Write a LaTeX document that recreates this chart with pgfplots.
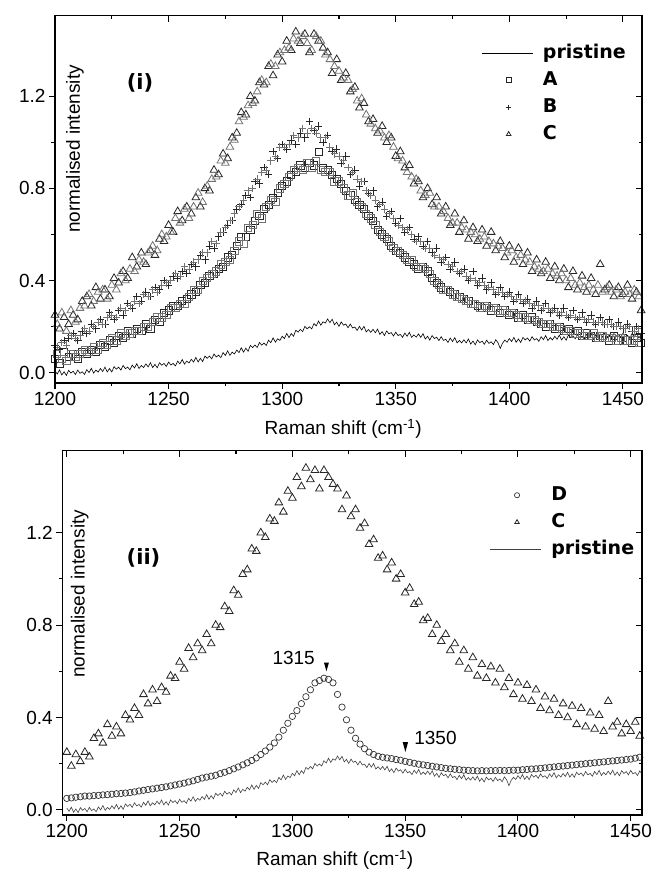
\documentclass[border=0pt]{standalone}
\usepackage{pgfplots}
\pgfplotsset{compat=1.18}
\usepackage{pgfplotstable}
\usepackage{fontspec}
\setmainfont{Liberation Sans}
\newfontfamily\lgd{DejaVu Sans}

\pgfplotstableread{
x y
1200 0.008
1201 -0.006
1202 0.012
1203 -0.010
1204 0.004
1205 -0.012
1206 0.010
1207 -0.002
1208 0.006
1209 -0.008
1210 0.011
1211 -0.003
1212 0.004
1213 -0.008
1214 0.013
1215 0.000
1216 0.019
1217 -0.002
1218 0.011
1219 0.002
1220 0.018
1221 0.005
1222 0.024
1223 0.003
1224 0.018
1225 0.003
1226 0.026
1227 0.015
1228 0.024
1229 0.011
1230 0.031
1231 0.017
1232 0.024
1233 0.012
1234 0.033
1235 0.020
1236 0.039
1237 0.018
1238 0.031
1239 0.022
1240 0.038
1241 0.025
1242 0.043
1243 0.022
1244 0.036
1245 0.021
1246 0.043
1247 0.032
1248 0.040
1249 0.027
1250 0.046
1251 0.033
1252 0.040
1253 0.029
1254 0.050
1255 0.038
1256 0.057
1257 0.037
1258 0.050
1259 0.042
1260 0.058
1261 0.046
1262 0.066
1263 0.046
1264 0.062
1265 0.048
1266 0.072
1267 0.062
1268 0.072
1269 0.060
1270 0.081
1271 0.068
1272 0.076
1273 0.065
1274 0.087
1275 0.075
1276 0.095
1277 0.075
1278 0.089
1279 0.081
1280 0.098
1281 0.087
1282 0.108
1283 0.089
1284 0.106
1285 0.093
1286 0.118
1287 0.109
1288 0.120
1289 0.109
1290 0.131
1291 0.119
1292 0.128
1293 0.118
1294 0.141
1295 0.130
1296 0.151
1297 0.132
1298 0.147
1299 0.140
1300 0.158
1301 0.148
1302 0.170
1303 0.152
1304 0.170
1305 0.158
1306 0.184
1307 0.176
1308 0.188
1309 0.178
1310 0.201
1311 0.190
1312 0.199
1313 0.190
1314 0.213
1315 0.203
1316 0.224
1317 0.206
1318 0.221
1319 0.215
1320 0.233
1321 0.217
1322 0.232
1323 0.208
1324 0.219
1325 0.201
1326 0.220
1327 0.206
1328 0.211
1329 0.195
1330 0.211
1331 0.194
1332 0.198
1333 0.183
1334 0.201
1335 0.185
1336 0.201
1337 0.177
1338 0.187
1339 0.175
1340 0.188
1341 0.173
1342 0.189
1343 0.166
1344 0.178
1345 0.161
1346 0.181
1347 0.168
1348 0.174
1349 0.159
1350 0.176
1351 0.161
1352 0.166
1353 0.153
1354 0.172
1355 0.158
1356 0.175
1357 0.153
1358 0.164
1359 0.154
1360 0.168
1361 0.153
1362 0.169
1363 0.146
1364 0.158
1365 0.141
1366 0.161
1367 0.148
1368 0.154
1369 0.139
1370 0.156
1371 0.140
1372 0.145
1373 0.131
1374 0.150
1375 0.135
1376 0.152
1377 0.129
1378 0.140
1379 0.129
1380 0.143
1381 0.129
1382 0.146
1383 0.124
1384 0.137
1385 0.121
1386 0.142
1387 0.130
1388 0.137
1389 0.123
1390 0.141
1391 0.127
1392 0.134
1393 0.122
1394 0.143
1395 0.130
1396 0.105
1397 0.128
1398 0.141
1399 0.132
1400 0.148
1401 0.135
1402 0.153
1403 0.132
1404 0.146
1405 0.131
1406 0.153
1407 0.142
1408 0.150
1409 0.137
1410 0.156
1411 0.142
1412 0.148
1413 0.136
1414 0.156
1415 0.143
1416 0.161
1417 0.139
1418 0.152
1419 0.142
1420 0.158
1421 0.145
1422 0.163
1423 0.142
1424 0.156
1425 0.141
1426 0.163
1427 0.152
1428 0.160
1429 0.147
1430 0.166
1431 0.152
1432 0.158
1433 0.146
1434 0.166
1435 0.153
1436 0.171
1437 0.149
1438 0.162
1439 0.152
1440 0.168
1441 0.154
1442 0.172
1443 0.150
1444 0.164
1445 0.148
1446 0.170
1447 0.158
1448 0.166
1449 0.152
1450 0.171
1451 0.156
1452 0.162
1453 0.149
1454 0.169
1455 0.155
1456 0.173
1457 0.151
1458 0.163
}\tabP

\pgfplotstableread{
x y
1200 0.06
1202 0.04
1204 0.09
1206 0.07
1208 0.08
1210 0.06
1212 0.09
1214 0.08
1216 0.10
1218 0.09
1220 0.12
1222 0.11
1224 0.14
1226 0.13
1228 0.16
1230 0.15
1232 0.18
1234 0.17
1236 0.19
1238 0.18
1240 0.21
1242 0.19
1244 0.23
1246 0.22
1248 0.26
1250 0.27
1252 0.29
1254 0.29
1256 0.31
1258 0.32
1260 0.34
1262 0.35
1264 0.38
1266 0.39
1268 0.42
1270 0.43
1272 0.45
1274 0.46
1276 0.50
1278 0.51
1280 0.55
1282 0.59
1284 0.59
1286 0.62
1288 0.66
1290 0.68
1292 0.71
1294 0.73
1296 0.76
1298 0.78
1300 0.81
1302 0.83
1304 0.86
1306 0.87
1308 0.90
1310 0.89
1312 0.91
1314 0.90
1316 0.96
1318 0.89
1320 0.88
1322 0.86
1324 0.84
1326 0.82
1328 0.79
1330 0.77
1332 0.75
1334 0.73
1336 0.71
1338 0.68
1340 0.66
1342 0.62
1344 0.60
1346 0.58
1348 0.55
1350 0.53
1352 0.52
1354 0.50
1356 0.48
1358 0.47
1360 0.45
1362 0.46
1364 0.44
1366 0.41
1368 0.39
1370 0.37
1372 0.36
1374 0.35
1376 0.34
1378 0.33
1380 0.32
1382 0.31
1384 0.30
1386 0.29
1388 0.28
1390 0.29
1392 0.27
1394 0.28
1396 0.26
1398 0.27
1400 0.25
1402 0.26
1404 0.24
1406 0.25
1408 0.23
1410 0.24
1412 0.22
1414 0.21
1416 0.20
1418 0.21
1420 0.19
1422 0.20
1424 0.18
1426 0.19
1428 0.17
1430 0.18
1432 0.16
1434 0.17
1436 0.16
1438 0.15
1440 0.16
1442 0.15
1444 0.14
1446 0.16
1448 0.14
1450 0.15
1452 0.14
1454 0.13
1456 0.15
1458 0.13
}\tabA

\pgfplotstableread{
x y
1201 0.08
1203 0.06
1205 0.05
1207 0.08
1209 0.07
1211 0.08
1213 0.10
1215 0.09
1217 0.11
1219 0.10
1221 0.13
1223 0.12
1225 0.15
1227 0.14
1229 0.17
1231 0.16
1233 0.17
1235 0.18
1237 0.18
1239 0.20
1241 0.20
1243 0.22
1245 0.24
1247 0.24
1249 0.25
1251 0.28
1253 0.28
1255 0.30
1257 0.30
1259 0.33
1261 0.36
1263 0.36
1265 0.40
1267 0.41
1269 0.43
1271 0.44
1273 0.47
1275 0.48
1277 0.49
1279 0.53
1281 0.57
1283 0.56
1285 0.63
1287 0.64
1289 0.69
1291 0.67
1293 0.72
1295 0.75
1297 0.74
1299 0.80
1301 0.82
1303 0.85
1305 0.88
1307 0.89
1309 0.88
1311 0.91
1313 0.89
1315 0.92
1317 0.88
1319 0.87
1321 0.87
1323 0.83
1325 0.83
1327 0.80
1329 0.77
1331 0.78
1333 0.74
1335 0.72
1337 0.69
1339 0.67
1341 0.64
1343 0.61
1345 0.59
1347 0.57
1349 0.54
1351 0.53
1353 0.51
1355 0.49
1357 0.49
1359 0.46
1361 0.46
1363 0.45
1365 0.43
1367 0.40
1369 0.38
1371 0.36
1373 0.36
1375 0.34
1377 0.33
1379 0.32
1381 0.31
1383 0.30
1385 0.30
1387 0.28
1389 0.29
1391 0.28
1393 0.28
1395 0.27
1397 0.27
1399 0.26
1401 0.26
1403 0.25
1405 0.24
1407 0.24
1409 0.23
1411 0.23
1413 0.22
1415 0.21
1417 0.21
1419 0.20
1421 0.20
1423 0.19
1425 0.18
1427 0.18
1429 0.17
1431 0.17
1433 0.16
1435 0.16
1437 0.17
1439 0.15
1441 0.16
1443 0.15
1445 0.15
1447 0.14
1449 0.15
1451 0.14
1453 0.14
1455 0.14
1457 0.13
}\tabAodd

\pgfplotstableread{
x y
1200 0.12
1202 0.10
1204 0.14
1206 0.15
1208 0.17
1210 0.14
1212 0.18
1214 0.17
1216 0.21
1218 0.19
1220 0.23
1222 0.21
1224 0.26
1226 0.23
1228 0.27
1230 0.25
1232 0.30
1234 0.28
1236 0.33
1238 0.31
1240 0.35
1242 0.33
1244 0.37
1246 0.36
1248 0.40
1250 0.38
1252 0.42
1254 0.41
1256 0.44
1258 0.43
1260 0.47
1262 0.46
1264 0.51
1266 0.49
1268 0.55
1270 0.54
1272 0.59
1274 0.61
1276 0.64
1278 0.66
1280 0.71
1282 0.73
1284 0.77
1286 0.76
1288 0.83
1290 0.82
1292 0.89
1294 0.86
1296 0.96
1298 0.93
1300 0.99
1302 0.97
1304 1.01
1306 0.99
1308 1.04
1310 1.02
1312 1.09
1314 1.05
1316 1.07
1318 1.00
1320 1.03
1322 0.96
1324 0.97
1326 0.91
1328 0.94
1330 0.86
1332 0.88
1334 0.81
1336 0.83
1338 0.78
1340 0.79
1342 0.72
1344 0.74
1346 0.68
1348 0.70
1350 0.65
1352 0.67
1354 0.61
1356 0.63
1358 0.58
1360 0.59
1362 0.55
1364 0.57
1366 0.52
1368 0.54
1370 0.48
1372 0.50
1374 0.45
1376 0.48
1378 0.43
1380 0.45
1382 0.40
1384 0.44
1386 0.38
1388 0.41
1390 0.36
1392 0.39
1394 0.34
1396 0.37
1398 0.33
1400 0.35
1402 0.31
1404 0.34
1406 0.30
1408 0.32
1410 0.28
1412 0.31
1414 0.27
1416 0.30
1418 0.26
1420 0.28
1422 0.25
1424 0.28
1426 0.24
1428 0.27
1430 0.23
1432 0.26
1434 0.22
1436 0.25
1438 0.21
1440 0.24
1442 0.21
1444 0.23
1446 0.20
1448 0.22
1450 0.19
1452 0.21
1454 0.18
1456 0.20
1458 0.17
}\tabB

\pgfplotstableread{
x y
1201 0.11
1203 0.13
1205 0.12
1207 0.16
1209 0.15
1211 0.16
1213 0.19
1215 0.18
1217 0.20
1219 0.22
1221 0.21
1223 0.24
1225 0.25
1227 0.24
1229 0.28
1231 0.27
1233 0.29
1235 0.31
1237 0.30
1239 0.34
1241 0.33
1243 0.36
1245 0.35
1247 0.38
1249 0.39
1251 0.40
1253 0.43
1255 0.42
1257 0.46
1259 0.45
1261 0.48
1263 0.49
1265 0.52
1267 0.52
1269 0.57
1271 0.56
1273 0.61
1275 0.63
1277 0.66
1279 0.69
1281 0.72
1283 0.75
1285 0.79
1287 0.80
1289 0.84
1291 0.87
1293 0.88
1295 0.92
1297 0.94
1299 0.98
1301 0.98
1303 0.99
1305 1.03
1307 1.02
1309 1.06
1311 1.04
1313 1.06
1315 1.04
1317 1.02
1319 1.02
1321 0.98
1323 0.95
1325 0.94
1327 0.92
1329 0.89
1331 0.87
1333 0.84
1335 0.83
1337 0.79
1339 0.77
1341 0.75
1343 0.73
1345 0.71
1347 0.69
1349 0.67
1351 0.64
1353 0.63
1355 0.62
1357 0.60
1359 0.57
1361 0.57
1363 0.54
1365 0.54
1367 0.51
1369 0.50
1371 0.49
1373 0.47
1375 0.46
1377 0.44
1379 0.44
1381 0.42
1383 0.41
1385 0.40
1387 0.39
1389 0.38
1391 0.37
1393 0.36
1395 0.35
1397 0.35
1399 0.34
1401 0.33
1403 0.32
1405 0.32
1407 0.31
1409 0.30
1411 0.29
1413 0.29
1415 0.28
1417 0.28
1419 0.27
1421 0.26
1423 0.26
1425 0.25
1427 0.25
1429 0.24
1431 0.24
1433 0.23
1435 0.23
1437 0.22
1439 0.22
1441 0.22
1443 0.21
1445 0.21
1447 0.20
1449 0.20
1451 0.19
1453 0.20
1455 0.18
1457 0.19
}\tabBodd

\pgfplotstableread{
x y
1200 0.25
1202 0.19
1204 0.24
1206 0.21
1208 0.25
1210 0.23
1212 0.31
1214 0.33
1216 0.29
1218 0.37
1220 0.32
1222 0.36
1224 0.33
1226 0.41
1228 0.39
1230 0.44
1232 0.41
1234 0.50
1236 0.46
1238 0.52
1240 0.47
1242 0.53
1244 0.51
1246 0.58
1248 0.57
1250 0.64
1252 0.61
1254 0.70
1256 0.66
1258 0.72
1260 0.69
1262 0.76
1264 0.72
1266 0.80
1268 0.79
1270 0.88
1272 0.86
1274 0.95
1276 0.93
1278 1.02
1280 1.04
1282 1.13
1284 1.12
1286 1.20
1288 1.18
1290 1.26
1292 1.25
1294 1.33
1296 1.29
1298 1.38
1300 1.35
1302 1.44
1304 1.40
1306 1.48
1308 1.43
1310 1.47
1312 1.39
1314 1.47
1316 1.44
1318 1.41
1320 1.39
1322 1.30
1324 1.36
1326 1.27
1328 1.30
1330 1.22
1332 1.24
1334 1.15
1336 1.17
1338 1.09
1340 1.10
1342 1.04
1344 1.07
1346 1.00
1348 1.02
1350 0.94
1352 0.96
1354 0.89
1356 0.90
1358 0.82
1360 0.83
1362 0.76
1364 0.80
1366 0.73
1368 0.76
1370 0.69
1372 0.72
1374 0.64
1376 0.69
1378 0.61
1380 0.66
1382 0.58
1384 0.63
1386 0.57
1388 0.62
1390 0.55
1392 0.61
1394 0.53
1396 0.57
1398 0.50
1400 0.55
1402 0.48
1404 0.54
1406 0.47
1408 0.52
1410 0.44
1412 0.49
1414 0.43
1416 0.48
1418 0.41
1420 0.46
1422 0.40
1424 0.45
1426 0.37
1428 0.44
1430 0.36
1432 0.42
1434 0.35
1436 0.41
1438 0.34
1440 0.47
1442 0.36
1444 0.38
1446 0.33
1448 0.37
1450 0.34
1452 0.38
1454 0.32
1456 0.35
1458 0.27
}\tabC

\pgfplotstableread{
x y
1201 0.21
1203 0.26
1205 0.18
1207 0.27
1209 0.22
1211 0.28
1213 0.29
1215 0.34
1217 0.31
1219 0.35
1221 0.36
1223 0.32
1225 0.38
1227 0.36
1229 0.43
1231 0.40
1233 0.45
1235 0.44
1237 0.49
1239 0.48
1241 0.52
1243 0.55
1245 0.53
1247 0.60
1249 0.59
1251 0.61
1253 0.67
1255 0.65
1257 0.71
1259 0.67
1261 0.72
1263 0.78
1265 0.74
1267 0.81
1269 0.84
1271 0.85
1273 0.92
1275 0.91
1277 0.98
1279 1.01
1281 1.09
1283 1.11
1285 1.16
1287 1.17
1289 1.22
1291 1.27
1293 1.26
1295 1.34
1297 1.33
1299 1.39
1301 1.40
1303 1.41
1305 1.45
1307 1.44
1309 1.46
1311 1.43
1313 1.40
1315 1.46
1317 1.44
1319 1.38
1321 1.36
1323 1.33
1325 1.31
1327 1.28
1329 1.27
1331 1.23
1333 1.18
1335 1.19
1337 1.12
1339 1.08
1341 1.06
1343 1.05
1345 1.02
1347 1.03
1349 0.98
1351 0.93
1353 0.92
1355 0.87
1357 0.85
1359 0.84
1361 0.79
1363 0.77
1365 0.78
1367 0.72
1369 0.72
1371 0.70
1373 0.67
1375 0.65
1377 0.65
1379 0.63
1381 0.62
1383 0.61
1385 0.60
1387 0.58
1389 0.59
1391 0.57
1393 0.56
1395 0.55
1397 0.54
1399 0.52
1401 0.53
1403 0.50
1405 0.51
1407 0.49
1409 0.48
1411 0.46
1413 0.45
1415 0.44
1417 0.45
1419 0.43
1421 0.42
1423 0.43
1425 0.40
1427 0.41
1429 0.38
1431 0.39
1433 0.37
1435 0.38
1437 0.36
1439 0.38
1441 0.35
1443 0.37
1445 0.35
1447 0.36
1449 0.33
1451 0.35
1453 0.34
1455 0.36
1457 0.33
}\tabCodd

\pgfplotstableread{
x y
1200 0.050
1202 0.052
1204 0.055
1206 0.057
1208 0.060
1210 0.060
1212 0.062
1214 0.063
1216 0.065
1218 0.066
1220 0.068
1222 0.070
1224 0.071
1226 0.073
1228 0.075
1230 0.078
1232 0.082
1234 0.085
1236 0.088
1238 0.091
1240 0.094
1242 0.097
1244 0.100
1246 0.104
1248 0.108
1250 0.112
1252 0.116
1254 0.121
1256 0.126
1258 0.132
1260 0.138
1262 0.142
1264 0.146
1266 0.150
1268 0.157
1270 0.163
1272 0.170
1274 0.178
1276 0.186
1278 0.195
1280 0.204
1282 0.214
1284 0.225
1286 0.240
1288 0.255
1290 0.272
1292 0.290
1294 0.315
1296 0.345
1298 0.375
1300 0.405
1302 0.430
1304 0.460
1306 0.490
1308 0.520
1310 0.550
1312 0.560
1314 0.570
1316 0.565
1318 0.550
1320 0.500
1322 0.445
1324 0.390
1326 0.345
1328 0.310
1330 0.285
1332 0.265
1334 0.250
1336 0.240
1338 0.232
1340 0.228
1342 0.225
1344 0.222
1346 0.218
1348 0.215
1350 0.210
1352 0.206
1354 0.202
1356 0.198
1358 0.195
1360 0.192
1362 0.189
1364 0.186
1366 0.183
1368 0.180
1370 0.178
1372 0.176
1374 0.174
1376 0.172
1378 0.171
1380 0.170
1382 0.169
1384 0.170
1386 0.169
1388 0.170
1390 0.170
1392 0.171
1394 0.170
1396 0.171
1398 0.172
1400 0.172
1402 0.174
1404 0.175
1406 0.177
1408 0.178
1410 0.180
1412 0.182
1414 0.184
1416 0.186
1418 0.188
1420 0.190
1422 0.192
1424 0.194
1426 0.196
1428 0.198
1430 0.200
1432 0.202
1434 0.204
1436 0.206
1438 0.208
1440 0.210
1442 0.212
1444 0.214
1446 0.216
1448 0.218
1450 0.220
1452 0.224
1454 0.228
1456 0.230
}\tabD

\pgfplotsset{
  panel/.style={
    scale only axis,
    axis line style={line width=1.3pt},
    xtick={1200,1250,...,1450},
    ytick={0,0.4,0.8,1.2},
    minor x tick num=1,
    minor y tick num=1,
    major tick length=6pt,
    minor tick length=3.5pt,
    every tick/.style={black,line width=1.1pt},
    tick label style={font=\fontsize{19}{19}\selectfont},
    label style={font=\fontsize{19}{19}\selectfont},
    /pgf/number format/assume math mode=true,
    /pgf/number format/1000 sep={},
    yticklabel style={/pgf/number format/fixed,/pgf/number format/fixed zerofill,/pgf/number format/precision=1},
    legend style={draw=none,fill=none,inner sep=0pt,anchor=north west,
      font=\lgd\bfseries\fontsize{19}{19}\selectfont,
      row sep=9pt,
      nodes={text height=14pt,text depth=4pt,inner sep=0pt},
      /tikz/every odd column/.append style={column sep=10pt}},
    legend cell align=left,
  },
  mainax/.style={panel, tick align=outside, xtick pos=left, ytick pos=left},
  mirrorax/.style={panel, tick align=inside, xtick pos=right, ytick pos=right,
    xticklabels={}, yticklabels={}},
  mkline/.style={legend image code/.code={\draw[##1] (0pt,0pt) -- (51pt,0pt);}},
  mkmark/.style={legend image code/.code={\path[draw=none,fill=none] (0pt,-1pt) rectangle (51pt,1pt);
     \draw[##1,mark size=2.6pt] plot coordinates {(27pt,0pt)};}},
  sqA/.style={only marks, mark=square, mark size=3.6pt, mark options={line width=0.8pt}},
  plB/.style={only marks, mark=+, mark size=3.8pt, mark options={line width=0.8pt}},
  trC/.style={only marks, mark=triangle, mark size=4.4pt, mark options={line width=0.8pt}},
}

\begin{document}
\begin{tikzpicture}
\path[use as bounding box] (0pt,0pt) rectangle (652pt,870pt);

% ---------- panel (i) ----------
\begin{axis}[mainax, at={(55pt,487pt)}, anchor=south west,
  width=587pt, height=367.3pt,
  xmin=1200, xmax=1458.4, ymin=-0.045, ymax=1.55,
  xlabel={Raman shift (cm\textsuperscript{-1})},
  xlabel style={at={(axis description cs:0.491,-0.125)}, anchor=center},
  legend style={at={(axis description cs:0.726,0.923)}},
]
\addplot[black, line width=0.6pt, mkline] table[x=x,y=y] {\tabP};
\addlegendentry{pristine}
\addplot[sqA, black!85, mkmark] table[x=x,y=y] {\tabA};
\addlegendentry{A}
\addplot[plB, black!85, mkmark] table[x=x,y=y] {\tabB};
\addlegendentry{B}
\addplot[trC, black!85, mkmark] table[x=x,y=y] {\tabC};
\addlegendentry{C}
\addplot[sqA, black!55, forget plot] table[x=x,y=y] {\tabAodd};
\addplot[plB, black!55, forget plot] table[x=x,y=y] {\tabBodd};
\addplot[trC, black!55, forget plot] table[x=x,y=y] {\tabCodd};
\node[rotate=90, font=\fontsize{19}{19}\selectfont] at (rel axis cs:0.034,0.637) {normalised intensity};
\node[font=\lgd\bfseries\fontsize{21}{21}\selectfont] at (axis cs:1237.4,1.26) {(i)};
\end{axis}
\begin{axis}[mirrorax, at={(55pt,487pt)}, anchor=south west,
  width=587pt, height=367.3pt,
  xmin=1200, xmax=1458.4, ymin=-0.045, ymax=1.55]
\end{axis}

% ---------- panel (ii) ----------
\begin{axis}[mainax, at={(62.3pt,55pt)}, anchor=south west,
  width=579.7pt, height=364.3pt,
  xmin=1198, xmax=1455, ymin=-0.022, ymax=1.555,
  xlabel={Raman shift (cm\textsuperscript{-1})},
  xlabel style={at={(axis description cs:0.47,-0.124)}, anchor=center},
  legend style={at={(axis description cs:0.737,0.903)}},
]
\addplot[only marks, mark=o, mark size=3.2pt, black!80, mark options={line width=0.7pt}, mkmark] table[x=x,y=y] {\tabD};
\addlegendentry{D}
\addplot[trC, black!85, mkmark] table[x=x,y=y] {\tabC};
\addlegendentry{C}
\addplot[black!75, line width=0.6pt, mkline] table[x=x,y=y] {\tabP};
\addlegendentry{pristine}
\node[rotate=90, font=\fontsize{19}{19}\selectfont] at (rel axis cs:0.03,0.607) {normalised intensity};
\node[font=\lgd\bfseries\fontsize{21}{21}\selectfont] at (axis cs:1234,1.09) {(ii)};
\fill[black] (axis cs:1314,0.638) -- (axis cs:1316.2,0.638) -- (axis cs:1315.1,0.600) -- cycle;
\node[font=\fontsize{19}{19}\selectfont, anchor=east] at (axis cs:1311.5,0.658) {1315};
\fill[black] (axis cs:1348.9,0.294) -- (axis cs:1351.3,0.294) -- (axis cs:1350.1,0.251) -- cycle;
\node[font=\fontsize{19}{19}\selectfont, anchor=west] at (axis cs:1352.5,0.31) {1350};
\end{axis}
\begin{axis}[mirrorax, at={(62.3pt,55pt)}, anchor=south west,
  width=579.7pt, height=364.3pt,
  xmin=1198, xmax=1455, ymin=-0.022, ymax=1.555]
\end{axis}
\end{tikzpicture}
\end{document}
